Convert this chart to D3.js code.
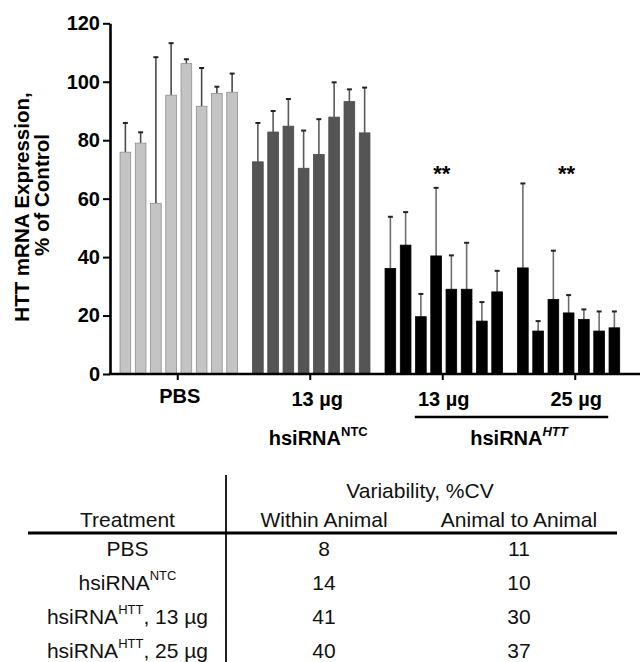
<!DOCTYPE html>
<html><head><meta charset="utf-8">
<script src="https://cdn.jsdelivr.net/npm/d3@7"></script>
<style>
html,body{margin:0;padding:0;background:#fff;}
svg{display:block;font-family:"Liberation Sans",Arial,Helvetica,sans-serif;}
</style></head><body>
<svg id="chart" width="640" height="662"></svg>
<script>
// ---------- data ----------
const groups = ["PBS", "NTC 13 µg", "HTT 13 µg", "HTT 25 µg"];
const pbsValues = [75.9, 79.0, 58.4, 95.4, 106.2, 91.6, 96.0, 96.4];
const pbsErrors = [10.0, 3.7, 50.0, 17.8, 1.5, 13.1, 2.3, 6.4];
const ntcValues = [72.6, 82.8, 84.8, 70.4, 75.1, 87.9, 93.2, 82.5];
const ntcErrors = [13.3, 7.2, 9.3, 12.9, 12.1, 11.9, 4.2, 15.5];
const htt13Values = [36.1, 44.1, 19.6, 40.4, 29.0, 29.0, 18.1, 28.1];
const htt13Errors = [17.7, 11.3, 7.8, 23.3, 11.6, 15.9, 6.5, 7.2];
const htt25Values = [36.3, 14.7, 25.5, 20.9, 18.7, 14.7, 15.8];
const htt25Errors = [28.9, 3.4, 16.7, 6.1, 3.4, 6.7, 5.6];
const yTicks = [0, 20, 40, 60, 80, 100, 120];
const significance = [{group: "HTT 13 µg", label: "**", level: 70}, {group: "HTT 25 µg", label: "**", level: 70}];

const tableHeader = ["Treatment", "Within Animal", "Animal to Animal"];
const tableSuperHeader = "Variability, %CV";
const treatmentBase = ["PBS", "hsiRNA", "hsiRNA", "hsiRNA"];
const treatmentSup = ["", "NTC", "HTT", "HTT"];
const treatmentSuffix = ["", "", ", 13 µg", ", 25 µg"];
const withinAnimalCV = [8, 14, 41, 40];
const animalToAnimalCV = [11, 10, 30, 37];

const seriesValues = [pbsValues, ntcValues, htt13Values, htt25Values];
const seriesErrors = [pbsErrors, ntcErrors, htt13Errors, htt25Errors];
const fills = ["#c4c4c4", "#555555", "#000000", "#000000"];
const strokes = ["#8e8e8e", "#4a4a4a", "#000000", "#000000"];
const errColors = ["#4a4a4a", "#5a5a5a", "#6e6e6e", "#6e6e6e"];

// ---------- scales ----------
const svg = d3.select("#chart");
const y = d3.scaleLinear().domain([0, 120]).range([374, 23.3]);
const x = d3.scaleBand().domain(groups).range([111.5, 641.5]).padding(0);
const slot = d3.scaleBand().domain(d3.range(8)).range([-61, 61]).paddingInner(0.3).paddingOuter(0.15);
const cx = g => x(g) + x.bandwidth() / 2;

const bars = [];
groups.forEach((g, gi) => {
  seriesValues[gi].forEach((v, i) => bars.push({g, gi, i, v, e: seriesErrors[gi][i]}));
});
const barX = d => cx(d.g) + 1 + slot(d.i);

// error bars (behind bars)
const eb = svg.append("g");
eb.selectAll("line.v").data(bars).join("line")
  .attr("x1", d => barX(d) + slot.bandwidth() / 2).attr("x2", d => barX(d) + slot.bandwidth() / 2)
  .attr("y1", d => y(d.v)).attr("y2", d => y(d.v + d.e))
  .attr("stroke", d => errColors[d.gi]).attr("stroke-width", 1.6);
eb.selectAll("line.c").data(bars).join("line")
  .attr("x1", d => barX(d) + slot.bandwidth() / 2 - 2.5).attr("x2", d => barX(d) + slot.bandwidth() / 2 + 2.5)
  .attr("y1", d => y(d.v + d.e)).attr("y2", d => y(d.v + d.e))
  .attr("stroke", "#222").attr("stroke-width", 2);

svg.append("g").selectAll("rect").data(bars).join("rect")
  .attr("x", barX).attr("width", slot.bandwidth())
  .attr("y", d => y(d.v)).attr("height", d => y(0) - y(d.v))
  .attr("fill", d => fills[d.gi]).attr("stroke", d => strokes[d.gi]).attr("stroke-width", 0.8);

// significance stars
svg.append("g").selectAll("text").data(significance).join("text")
  .attr("x", d => {
    const gi = groups.indexOf(d.group);
    const n = seriesValues[gi].length;
    return (cx(d.group) + 1 + slot(0) + cx(d.group) + 1 + slot(n - 1) + slot.bandwidth()) / 2 - 2;
  })
  .attr("y", d => y(d.level) + 12)
  .attr("text-anchor", "middle").attr("font-size", 22).attr("font-weight", "bold")
  .text(d => d.label);

// ---------- axes ----------
const yAxis = svg.append("g").attr("transform", "translate(110,0)")
  .call(d3.axisLeft(y).tickValues(yTicks).tickSize(7).tickSizeOuter(0).tickPadding(3));
yAxis.select(".domain").attr("stroke", "#000").attr("stroke-width", 2.6);
yAxis.selectAll(".tick line").attr("stroke", "#000").attr("stroke-width", 2);
yAxis.selectAll(".tick text").attr("font-size", 20).attr("font-weight", "bold")
  .attr("font-family", "Liberation Sans, Arial, sans-serif").attr("fill", "#000");

const xAxis = svg.append("g").attr("transform", "translate(0,374)")
  .call(d3.axisBottom(x).tickSize(6).tickSizeOuter(0).tickFormat(""));
xAxis.select(".domain").remove();
xAxis.selectAll(".tick line").attr("stroke", "#000").attr("stroke-width", 2);
svg.append("line").attr("x1", 108.7).attr("x2", 640).attr("y1", y(0)).attr("y2", y(0))
  .attr("stroke", "#000").attr("stroke-width", 2.6);

// y axis title
svg.append("text").attr("transform", "translate(28.5,207) rotate(-90)")
  .attr("text-anchor", "middle").attr("font-size", 20.5).attr("font-weight", "bold")
  .text("HTT mRNA Expression,");
svg.append("text").attr("transform", "translate(48.5,195) rotate(-90)")
  .attr("text-anchor", "middle").attr("font-size", 20.5).attr("font-weight", "bold")
  .text("% of Control");

// x category labels
const lab = svg.append("g").attr("font-size", 20).attr("font-weight", "bold").attr("text-anchor", "middle");
lab.append("text").attr("x", cx(groups[0]) + 2).attr("y", 403).text("PBS");
lab.append("text").attr("x", cx(groups[1]) + 7).attr("y", 406).text("13 µg");
const ntc = lab.append("text").attr("x", cx(groups[1]) + 8).attr("y", 445);
ntc.append("tspan").text("hsiRNA");
ntc.append("tspan").attr("font-size", 13).attr("dy", -9).text("NTC");
lab.append("text").attr("x", cx(groups[2]) + 1).attr("y", 406).text("13 µg");
lab.append("text").attr("x", cx(groups[3]) + 1).attr("y", 406).text("25 µg");
svg.append("line").attr("x1", cx(groups[2]) - 28).attr("x2", cx(groups[3]) + 33)
  .attr("y1", 417).attr("y2", 417).attr("stroke", "#000").attr("stroke-width", 2.6);
const htt = lab.append("text").attr("x", (cx(groups[2]) + cx(groups[3])) / 2 + 10).attr("y", 445);
htt.append("tspan").text("hsiRNA");
htt.append("tspan").attr("font-size", 13).attr("font-style", "italic").attr("dy", -9).text("HTT");

// ---------- table ----------
const tbl = svg.append("g").attr("font-size", 21).attr("fill", "#111");
const colX = [127.5, 324, 519];
tbl.append("line").attr("x1", 226).attr("x2", 226).attr("y1", 475).attr("y2", 662)
  .attr("stroke", "#222").attr("stroke-width", 2);
tbl.append("line").attr("x1", 28).attr("x2", 617).attr("y1", 533).attr("y2", 533)
  .attr("stroke", "#000").attr("stroke-width", 2.8);
tbl.append("text").attr("x", 420).attr("y", 498).attr("text-anchor", "middle").text(tableSuperHeader);
tbl.selectAll("text.h").data(tableHeader).join("text").attr("class", "h")
  .attr("x", (d, i) => colX[i]).attr("y", 527).attr("text-anchor", "middle").text(d => d);
const rowY = i => 556 + i * 34;
treatmentBase.forEach((b, i) => {
  const t = tbl.append("text").attr("x", colX[0]).attr("y", rowY(i)).attr("text-anchor", "middle");
  t.append("tspan").text(b);
  if (treatmentSup[i]) {
    t.append("tspan").attr("font-size", 13).attr("dy", -10).text(treatmentSup[i]);
    if (treatmentSuffix[i]) t.append("tspan").attr("dy", 10).text(treatmentSuffix[i]);
  }
  tbl.append("text").attr("x", colX[1]).attr("y", rowY(i)).attr("text-anchor", "middle").text(withinAnimalCV[i]);
  tbl.append("text").attr("x", colX[2]).attr("y", rowY(i)).attr("text-anchor", "middle").text(animalToAnimalCV[i]);
});
</script>
</body></html>
